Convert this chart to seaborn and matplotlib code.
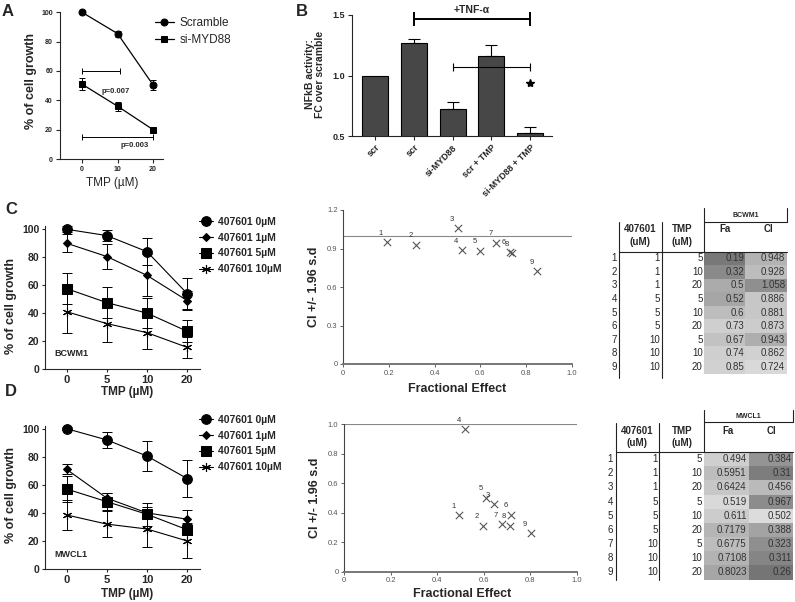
import numpy as np
import pandas as pd
import matplotlib
matplotlib.use('Agg')
import matplotlib.pyplot as plt
import seaborn as sns

sns.set_style('ticks')
plt.rcParams['font.family'] = ['Liberation Sans', 'DejaVu Sans']
plt.rcParams['axes.linewidth'] = 0.8

# ---------------- data ----------------
# Panel A
a_tmp = [0, 10, 20]
a_scramble = [100, 85.5, 50.5]
a_scramble_err = [0.8, 2.0, 3.5]
a_simyd88 = [51, 36, 20]
a_simyd88_err = [4.0, 3.0, 1.0]

# Panel B
b_labels = ['scr', 'scr', 'si-MYD88', 'scr + TMP', 'si-MYD88 + TMP']
b_values = [1.0, 1.265, 0.72, 1.16, 0.527]
b_err = [0.0, 0.033, 0.062, 0.096, 0.044]

# Panels C / D (left)
tmp_labels = ['0', '5', '10', '20']
dose_labels = ['407601 0µM', '407601 1µM', '407601 5µM', '407601 10µM']
c_0 = [100, 95.5, 84, 54];   c_0_err = [2, 4, 9.5, 11]
c_1 = [90, 80.5, 67, 49];    c_1_err = [6.5, 9, 15, 7]
c_5 = [57.5, 47.5, 40, 27];  c_5_err = [11, 11, 11, 8]
c_10 = [41, 32.5, 26, 15.5]; c_10_err = [15.5, 13.5, 11.5, 7.5]
d_0 = [100, 92, 80.5, 64.5]; d_0_err = [1, 5.5, 11, 13]
d_1 = [71, 50.5, 40, 35.5];  d_1_err = [3.5, 3.5, 4, 6.5]
d_5 = [57, 48, 39, 28];      d_5_err = [9, 6, 8, 4]
d_10 = [38.5, 32, 28.5, 20]; d_10_err = [10.5, 9, 13, 12.5]

# Tables / combination index
tbl_idx = [1, 2, 3, 4, 5, 6, 7, 8, 9]
tbl_407601 = [1, 1, 1, 5, 5, 5, 10, 10, 10]
tbl_tmp = [5, 10, 20, 5, 10, 20, 5, 10, 20]
bc_fa = [0.19, 0.32, 0.5, 0.52, 0.6, 0.73, 0.67, 0.74, 0.85]
bc_ci = [0.948, 0.928, 1.058, 0.886, 0.881, 0.873, 0.943, 0.862, 0.724]
mw_fa = [0.494, 0.5951, 0.6424, 0.519, 0.611, 0.7179, 0.6775, 0.7108, 0.8023]
mw_ci = [0.384, 0.31, 0.456, 0.967, 0.502, 0.388, 0.323, 0.311, 0.26]

# cell shading (style) gray levels
bc_fa_shade = [0.47, 0.54, 0.67, 0.65, 0.74, 0.81, 0.76, 0.81, 0.82]
bc_ci_shade = [0.70, 0.74, 0.56, 0.78, 0.78, 0.80, 0.68, 0.82, 0.85]
mw_fa_shade = [0.81, 0.74, 0.78, 0.85, 0.80, 0.71, 0.74, 0.70, 0.65]
mw_ci_shade = [0.58, 0.49, 0.73, 0.55, 0.86, 0.64, 0.56, 0.52, 0.46]

W, H = 795, 602
fig = plt.figure(figsize=(W / 100, H / 100), dpi=100)


def add_ax(l, t, r, b):
    return fig.add_axes([l / W, 1 - b / H, (r - l) / W, (b - t) / H])


def ftext(x, y, s, **kw):
    fig.text(x / W, 1 - y / H, s, **kw)


def style_ax(ax, size, bold=True, length=3, pad=2):
    sns.despine(ax=ax)
    ax.tick_params(axis='both', direction='out', length=length, width=0.8,
                   labelsize=size, pad=pad)
    for lab in ax.get_xticklabels() + ax.get_yticklabels():
        lab.set_fontweight('bold' if bold else 'normal')


# ---------------- Panel A ----------------
axA = add_ax(60, 12.3, 163, 159)
sns.lineplot(x=a_tmp, y=a_scramble, ax=axA, color='k', lw=0.9, marker='o',
             markersize=5, markeredgecolor='k', label='Scramble', clip_on=False)
sns.lineplot(x=a_tmp, y=a_simyd88, ax=axA, color='k', lw=0.9, marker='s',
             markersize=5, markeredgecolor='k', label='si-MYD88', clip_on=False)
axA.errorbar(a_tmp, a_scramble, yerr=a_scramble_err, fmt='none', ecolor='k',
             elinewidth=0.7, capsize=2.5, capthick=0.7, clip_on=False)
axA.errorbar(a_tmp, a_simyd88, yerr=a_simyd88_err, fmt='none', ecolor='k',
             elinewidth=0.7, capsize=2.5, capthick=0.7)
axA.set_xlim(-6.2, 22.8)
axA.set_ylim(0, 100)
axA.set_xticks([0, 10, 20])
axA.set_yticks([0, 20, 40, 60, 80, 100])
axA.set_xlabel(''); axA.set_ylabel('')
style_ax(axA, 5)
# significance brackets
axA.errorbar(5.3, 60, xerr=5.3, fmt='none', ecolor='k', elinewidth=0.7,
             capsize=2, capthick=0.7)
axA.errorbar(10, 15, xerr=10, fmt='none', ecolor='k', elinewidth=0.7,
             capsize=2, capthick=0.7)
axA.text(9.5, 46, 'p=0.007', fontsize=5.5, fontweight='bold', ha='center', va='center')
axA.text(14.7, 9, 'p=0.003', fontsize=5.5, fontweight='bold', ha='center', va='center')
axA.legend(loc='upper left', bbox_to_anchor=(155 / W, 1 - 17 / H),
           bbox_transform=fig.transFigure, frameon=False, borderpad=0,
           borderaxespad=0, handlelength=1.6, handletextpad=0.5,
           labelspacing=0.45, fontsize=8.5)
ftext(31, 81, '% of cell growth', rotation=90, ha='center', va='center',
      fontsize=9, fontweight='bold')
ftext(112, 183, 'TMP (µM)', ha='center', va='center', fontsize=8.5)
ftext(8, 12, 'A', ha='center', va='center', fontsize=12, fontweight='bold')

# ---------------- Panel B ----------------
axB = add_ax(352, 15, 552, 136)
sns.barplot(x=list(range(5)), y=b_values, ax=axB, color='#474747',
            saturation=1, edgecolor='k', linewidth=0.8, width=0.67,
            errorbar=None)
idx_err = [i for i in range(5) if b_err[i] > 0]
axB.errorbar(idx_err, [b_values[i] for i in idx_err],
             yerr=[[0] * len(idx_err), [b_err[i] for i in idx_err]],
             fmt='none', ecolor='k', elinewidth=0.8, capsize=4.5, capthick=0.8)
axB.set_xlim(-0.6, 4.57)
axB.set_ylim(0.5, 1.5)
axB.set_yticks([0.5, 1.0, 1.5])
axB.set_yticklabels(['0.5', '1.0', '1.5'])
axB.set_xticks(range(5))
axB.set_xticklabels(b_labels, rotation=45, ha='right', rotation_mode='anchor')
style_ax(axB, 6.5)
axB.errorbar(2.5, 1.465, xerr=1.5, fmt='none', ecolor='k', elinewidth=1.4,
             capsize=5, capthick=1.4, clip_on=False)
axB.text(2.5, 1.54, '+TNF-α', ha='center', va='center', fontsize=7.5,
         fontweight='bold', clip_on=False)
axB.errorbar(3.0, 1.071, xerr=1.0, fmt='none', ecolor='k', elinewidth=0.8,
             capsize=3, capthick=0.8)
axB.plot([4], [0.94], marker='*', color='k', markersize=6, linestyle='none')
ftext(315, 74, 'NFkB activity:\nFC over scramble', rotation=90, ha='center',
      va='center', fontsize=7.5, fontweight='bold', linespacing=1.05)
ftext(302, 12, 'B', ha='center', va='center', fontsize=12, fontweight='bold')

# ---------------- Panels C/D left ----------------
markers = [dict(marker='o', markersize=7),
           dict(marker='D', markersize=4.5),
           dict(marker='s', markersize=6.5),
           dict(marker=(6, 2, 0), markersize=6.5, markeredgewidth=0.8)]


def growth_panel(top, bottom, series, errs, cell, label_letter, letter_y,
                 leg_top, ylab_y, xlab_y, cell_y):
    ax = add_ax(45, top, 200, bottom)
    xs = list(range(4))
    for ys, es, lab, mk in zip(series, errs, dose_labels, markers):
        sns.lineplot(x=xs, y=ys, ax=ax, color='k', lw=0.8, label=lab,
                     markeredgecolor='k', clip_on=False, **mk)
        ax.errorbar(xs, ys, yerr=es, fmt='none', ecolor='k', elinewidth=0.7,
                    capsize=3.5, capthick=0.7)
    ax.set_xlim(-0.54, 3.32)
    ax.set_ylim(0, 102)
    ax.set_xticks(xs)
    ax.set_xticklabels(tmp_labels)
    ax.set_yticks([0, 20, 40, 60, 80, 100])
    ax.set_xlabel(''); ax.set_ylabel('')
    style_ax(ax, 7.5, length=2.5, pad=1.5)
    ax.tick_params(axis='x', labelsize=8)
    ax.text(-0.3, cell_y, cell, fontsize=6.5, fontweight='bold', va='center')
    ax.legend(loc='upper left', bbox_to_anchor=(199 / W, 1 - leg_top / H),
              bbox_transform=fig.transFigure, frameon=False, borderpad=0,
              borderaxespad=0, handlelength=1.3, handletextpad=0.5,
              labelspacing=0.55, prop=dict(size=7.5, weight='bold'))
    ftext(11, ylab_y, '% of cell growth', rotation=90, ha='center',
          va='center', fontsize=9, fontweight='bold')
    ftext(127, xlab_y, 'TMP (µM)', ha='center', va='center', fontsize=8.5,
          fontweight='bold')
    ftext(11, letter_y, label_letter, ha='center', va='center', fontsize=12,
          fontweight='bold')


growth_panel(226.5, 369, [c_0, c_1, c_5, c_10], [c_0_err, c_1_err, c_5_err, c_10_err],
             'BCWM1', 'C', 210, 217, 306, 392.5, 11)
growth_panel(425.9, 569, [d_0, d_1, d_5, d_10], [d_0_err, d_1_err, d_5_err, d_10_err],
             'MWCL1', 'D', 392, 415, 495, 594, 10)

# ---------------- CI scatter ----------------


def ci_panel(box, fa, ci, ymax, yticks, ylab_xy, xlab_xy):
    ax = add_ax(*box)
    ax.axhline(1.0, color='#888888', lw=0.8, zorder=1)
    sns.scatterplot(x=fa, y=ci, ax=ax, marker='x', color='#555555', s=28,
                    linewidth=0.8, zorder=3)
    for i, (x, y) in enumerate(zip(fa, ci)):
        ax.annotate(str(tbl_idx[i]), (x, y), xytext=(-4.3, 6.5),
                    textcoords='offset points', ha='center', va='center',
                    fontsize=5.5, color='#333333')
    ax.set_xlim(0, 1.0)
    ax.set_ylim(0, ymax)
    ax.set_xticks([0, 0.2, 0.4, 0.6, 0.8, 1.0])
    ax.set_xticklabels(['0', '0.2', '0.4', '0.6', '0.8', '1.0'])
    ax.set_yticks(yticks)
    ax.set_yticklabels(['0' if t == 0 else f'{t:.1f}' for t in yticks])
    sns.despine(ax=ax)
    ax.spines['left'].set_color('#444444')
    ax.spines['bottom'].set_color('#777777')
    ax.spines['bottom'].set_linewidth(1.4)
    ax.tick_params(axis='both', direction='out', length=2.5, width=0.6,
                   colors='#444444', labelsize=5.5, labelcolor='#555555', pad=1.5)
    ftext(ylab_xy[0], ylab_xy[1], 'CI +/- 1.96 s.d', rotation=90, ha='center',
          va='center', fontsize=9, fontweight='bold')
    ftext(xlab_xy[0], xlab_xy[1], 'Fractional Effect', ha='center',
          va='center', fontsize=9, fontweight='bold')


ci_panel((343.3, 210, 571.7, 364), bc_fa, bc_ci, 1.2,
         [0, 0.3, 0.6, 0.9, 1.2], (314, 287), (457, 389))
ci_panel((344, 424.3, 577, 571.7), mw_fa, mw_ci, 1.0,
         [0, 0.2, 0.4, 0.6, 0.8, 1.0], (315, 498), (462, 594))

# ---------------- Tables ----------------


def table_panel(y0, y1, cell, fa, ci, fa_shade, ci_shade, g):
    # shaded block via heatmap (drawn below the text layer)
    hax = add_ax(704, g['rtop'], g['xr'], g['rbot'])
    shade = pd.DataFrame({'Fa': fa_shade, 'CI': ci_shade})
    sns.heatmap(shade, ax=hax, cmap='gray', vmin=0, vmax=1, cbar=False,
                xticklabels=False, yticklabels=False, linewidths=0)
    hax.set_xlabel(''); hax.set_ylabel('')
    hax.set_zorder(1)

    ax = add_ax(600, y0, 795, y1)
    ax.set_zorder(5)
    ax.set_xlim(600, 795)
    ax.set_ylim(y1, y0)
    ax.axis('off')
    lc = '#222222'
    ax.plot([g['v0'], g['v0']], [g['vtop'], g['vbot']], color=lc, lw=0.8)
    ax.plot([g['v1'], g['v1']], [g['vtop'], g['vbot']], color=lc, lw=0.8)
    ax.plot([704, 704], [g['ttop'], g['rtop']], color=lc, lw=0.8)
    ax.plot([g['xr'], g['xr']], [g['ttop'], g['hcell']], color=lc, lw=0.8)
    ax.plot([704, g['xr']], [g['hcell'], g['hcell']], color=lc, lw=0.8)
    ax.plot([g['v0'], g['xr']], [g['rtop'], g['rtop']], color=lc, lw=0.8)
    ax.text((704 + g['xr']) / 2, g['ycell'], cell, ha='center', va='center',
            fontsize=5, fontweight='bold')
    for cx, t1, t2 in [(g['c1'], '407601', '(uM)'), (g['c2'], 'TMP', '(uM)'),
                       (g['c3'], 'Fa', None), (g['c4'], 'CI', None)]:
        ax.text(cx, g['h1'], t1, ha='center', va='center', fontsize=7,
                fontweight='bold')
        if t2:
            ax.text(cx, g['h2'], t2, ha='center', va='center', fontsize=7,
                    fontweight='bold')
    step = (g['rbot'] - g['rtop']) / 9
    for i in range(9):
        y = g['rtop'] + step * (i + 0.5)
        ax.text(g['r0'], y, str(tbl_idx[i]), ha='right', va='center', fontsize=7)
        ax.text(g['r1'], y, str(tbl_407601[i]), ha='right', va='center', fontsize=7)
        ax.text(g['r2'], y, str(tbl_tmp[i]), ha='right', va='center', fontsize=7)
        ax.text(g['r3'], y, str(fa[i]), ha='right', va='center', fontsize=7,
                color='#333333')
        ax.text(g['r4'], y, str(ci[i]), ha='right', va='center', fontsize=7,
                color='#333333')


table_panel(190, 390, 'BCWM1', bc_fa, bc_ci, bc_fa_shade, bc_ci_shade,
            dict(rtop=251.5, rbot=373.5, xr=786.7, v0=619, v1=661.7,
                 vtop=222, vbot=378, ttop=208, hcell=221.7, ycell=215,
                 c1=640, c2=681.7, c3=725, c4=768.3, h1=229.3, h2=242.3,
                 r0=616.7, r1=660, r2=702.7, r3=744, r4=785))
table_panel(400, 600, 'MWCL1', mw_fa, mw_ci, mw_fa_shade, mw_ci_shade,
            dict(rtop=452, rbot=579.5, xr=793, v0=615.7, v1=659.3,
                 vtop=423, vbot=580, ttop=410, hcell=422.3, ycell=416.7,
                 c1=636.7, c2=681.7, c3=728.3, c4=771.7, h1=431, h2=443.3,
                 r0=613, r1=658, r2=702, r3=746.7, r4=791.7))

fig.savefig('out.png', dpi=100)
